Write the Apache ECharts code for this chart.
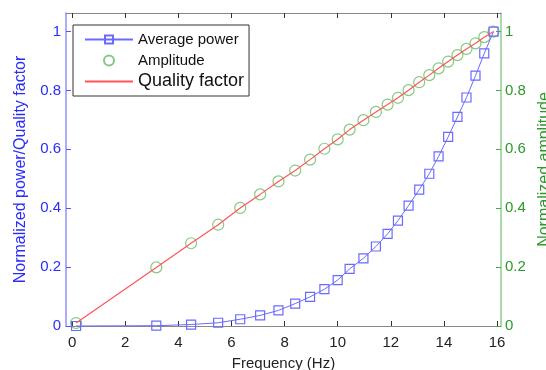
<!DOCTYPE html>
<html><head><meta charset="utf-8">
<script src="https://cdn.jsdelivr.net/npm/echarts@6/dist/echarts.min.js"></script>
<style>html,body{margin:0;padding:0;background:#fff}#c{width:546px;height:370px}</style>
</head><body><div id="c"></div>
<script>
const frequency = [0.15, 3.17, 4.48, 5.5, 6.33, 7.08, 7.77, 8.4, 8.96, 9.5, 10.0, 10.45, 10.97, 11.44, 11.88, 12.27, 12.67, 13.07, 13.45, 13.8, 14.16, 14.51, 14.85, 15.19, 15.52, 15.87];
const averagePower = [0.0, 0.001, 0.005, 0.011, 0.023, 0.036, 0.053, 0.076, 0.099, 0.125, 0.156, 0.194, 0.23, 0.27, 0.313, 0.358, 0.409, 0.463, 0.517, 0.576, 0.642, 0.71, 0.776, 0.85, 0.926, 1.0];
const amplitude = [0.01, 0.199, 0.281, 0.344, 0.401, 0.447, 0.491, 0.528, 0.565, 0.602, 0.634, 0.667, 0.699, 0.727, 0.752, 0.775, 0.801, 0.828, 0.852, 0.875, 0.898, 0.92, 0.941, 0.96, 0.981, 1.0];
const qualityFactor = [0.01, 0.199, 0.281, 0.344, 0.401, 0.447, 0.491, 0.528, 0.565, 0.602, 0.634, 0.667, 0.699, 0.727, 0.752, 0.775, 0.801, 0.828, 0.852, 0.875, 0.898, 0.92, 0.941, 0.96, 0.981, 1.0];
const xTicks = [0, 2, 4, 6, 8, 10, 12, 14, 16];
const yTicks = [0, 0.2, 0.4, 0.6, 0.8, 1];

const FONT = 'Liberation Sans';
const pairs = (ys) => frequency.map((x, i) => [x, ys[i]]);

const chart = echarts.init(document.getElementById('c'), null, {renderer: 'canvas'});
const xRange = {min: -0.23, max: 16.15};
const yRange = {min: 0, max: 1.063};

chart.setOption({
  animation: false,
  backgroundColor: '#fff',
  textStyle: {fontFamily: FONT},
  grid: {left: 66, right: 45, top: 13, bottom: 44, containLabel: false, outerBoundsMode: 'none'},
  legend: {
    orient: 'vertical',
    left: 73, top: 25,
    padding: [4, 5, 4, 11],
    itemWidth: 48, itemHeight: 10, itemGap: 0,
    backgroundColor: '#fff',
    borderColor: '#333', borderWidth: 1, borderRadius: 0,
    textStyle: {fontFamily: FONT, fontSize: 15, color: '#111', lineHeight: 21},
    data: [
      {name: 'Average power'},
      {name: 'Amplitude'},
      {name: 'Quality factor', textStyle: {fontSize: 18, lineHeight: 21},
       itemStyle: {color: 'rgba(0,0,0,0)', borderColor: 'rgba(0,0,0,0)', borderWidth: 0}}
    ]
  },
  xAxis: [{
    type: 'value', ...xRange, position: 'bottom',
    name: 'Frequency (Hz)', nameLocation: 'middle', nameGap: 30,
    nameTextStyle: {fontFamily: FONT, fontSize: 15, color: '#222'},
    axisLine: {show: true, onZero: false, lineStyle: {color: '#888', width: 1}},
    axisTick: {show: true, inside: true, length: 5, customValues: xTicks, lineStyle: {color: '#333'}},
    axisLabel: {customValues: xTicks, margin: 9, fontFamily: FONT, fontSize: 15, color: '#222'},
    splitLine: {show: false}
  }, {
    type: 'value', ...xRange, position: 'top',
    axisLine: {show: true, onZero: false, lineStyle: {color: '#888', width: 1}},
    axisTick: {show: true, inside: true, length: 5, customValues: xTicks, lineStyle: {color: '#333'}},
    axisLabel: {show: false},
    splitLine: {show: false}
  }],
  yAxis: [{
    type: 'value', ...yRange, position: 'left',
    name: 'Normalized power/Quality factor', nameLocation: 'middle', nameRotate: 90, nameGap: 37,
    nameTextStyle: {fontFamily: FONT, fontSize: 16, color: '#2b2bff'},
    axisLine: {show: true, onZero: false, lineStyle: {color: '#8f8fff', width: 1.5}},
    axisTick: {show: true, inside: true, length: 5, customValues: yTicks, lineStyle: {color: '#5555ff'}},
    axisLabel: {customValues: yTicks, margin: 5, fontFamily: FONT, fontSize: 15, color: '#2b2bff'},
    splitLine: {show: false}
  }, {
    type: 'value', ...yRange, position: 'right',
    name: 'Normalized amplitude', nameLocation: 'middle', nameRotate: 90, nameGap: 31,
    nameTextStyle: {fontFamily: FONT, fontSize: 16, color: '#2a9a2a'},
    axisLine: {show: true, onZero: false, lineStyle: {color: '#8fcc8f', width: 1.5}},
    axisTick: {show: true, inside: true, length: 5, customValues: yTicks, lineStyle: {color: '#44aa44'}},
    axisLabel: {customValues: yTicks, margin: 4, fontFamily: FONT, fontSize: 15, color: '#2a9a2a'},
    splitLine: {show: false}
  }],
  series: [{
    name: 'Average power', type: 'line', xAxisIndex: 0, yAxisIndex: 0,
    data: pairs(averagePower),
    symbol: 'rect', symbolSize: 9, showSymbol: true,
    lineStyle: {color: '#6a6aff', width: 1},
    itemStyle: {color: 'rgba(255,255,255,0)', borderColor: '#6a6aff', borderWidth: 1.2},
    clip: false, z: 3
  }, {
    name: 'Amplitude', type: 'scatter', xAxisIndex: 0, yAxisIndex: 1,
    data: pairs(amplitude),
    symbol: 'circle', symbolSize: 11,
    itemStyle: {color: 'rgba(255,255,255,0)', borderColor: '#66bb66', borderWidth: 1.2},
    clip: false, z: 2
  }, {
    name: 'Quality factor', type: 'line', xAxisIndex: 0, yAxisIndex: 0,
    data: pairs(qualityFactor),
    symbol: 'none', showSymbol: false,
    lineStyle: {color: '#ff5555', width: 1.2},
    itemStyle: {color: '#ff5555'},
    clip: false, z: 4
  }]
});
</script></body></html>
